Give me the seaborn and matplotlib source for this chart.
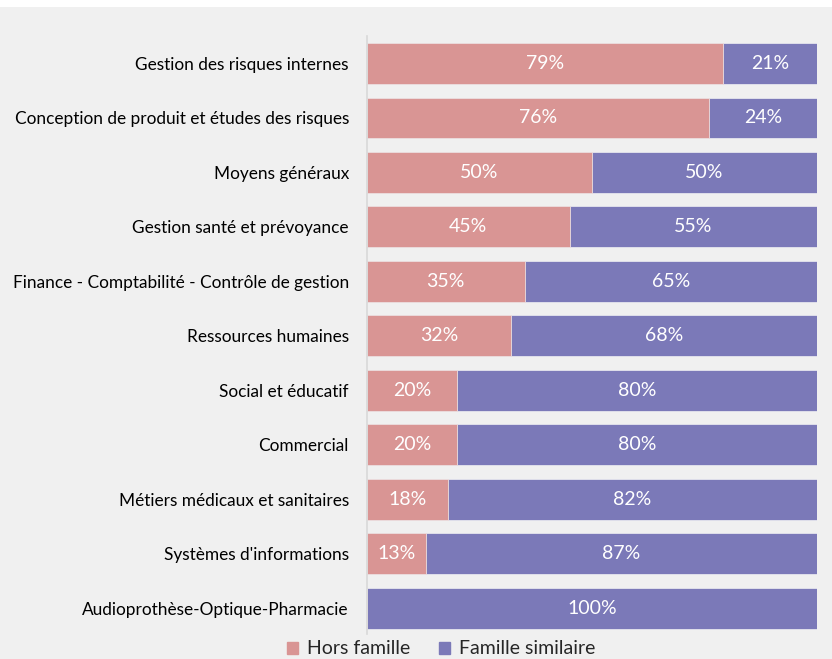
import matplotlib
matplotlib.use('Agg')
import matplotlib.pyplot as plt
import matplotlib.patches as mpatches
import seaborn as sns
import pandas as pd

# data
categories = ['Gestion des risques internes',
              'Conception de produit et études des risques',
              'Moyens généraux',
              'Gestion santé et prévoyance',
              'Finance - Comptabilité - Contrôle de gestion',
              'Ressources humaines',
              'Social et éducatif',
              'Commercial',
              'Métiers médicaux et sanitaires',
              "Systèmes d'informations",
              'Audioprothèse-Optique-Pharmacie']
hors_famille = [79, 76, 50, 45, 35, 32, 20, 20, 18, 13, 0]
famille_similaire = [21, 24, 50, 55, 65, 68, 80, 80, 82, 87, 100]
series_names = ['Hors famille', 'Famille similaire']

pink = '#d99594'
purple = '#7b79b8'
bg = '#f0f0f0'

sns.set_theme(style='white')
plt.rcParams['font.family'] = ['Lato', 'DejaVu Sans']

df = pd.DataFrame({'cat': categories, 'hors': hors_famille, 'sim': famille_similaire})
df['total'] = df['hors'] + df['sim']

fig = plt.figure(figsize=(8.32, 6.59), dpi=100, facecolor=bg)
fig.patches.append(mpatches.Rectangle((0, 1 - 7 / 659), 1, 7 / 659, transform=fig.transFigure,
                                      facecolor='white', edgecolor='none', zorder=0))
ax = fig.add_axes([367 / 832, 24.6 / 659, 450 / 832, 598.7 / 659])
ax.set_facecolor(bg)

sns.barplot(data=df, y='cat', x='total', color=purple, width=0.75, ax=ax,
            saturation=1, edgecolor='#e6e6ee', linewidth=0.6)
sns.barplot(data=df, y='cat', x='hors', color=pink, width=0.75, ax=ax,
            saturation=1, edgecolor='#eee0e0', linewidth=0.6)

# segment labels
for i, (h, s) in enumerate(zip(hors_famille, famille_similaire)):
    if h > 0:
        ax.text(h / 2, i, f'{h}%', ha='center', va='center', color='white', fontsize=14)
    if s > 0:
        ax.text(h + s / 2, i, f'{s}%', ha='center', va='center', color='white', fontsize=14)

ax.set_xlim(0, 100)
ax.set_ylim(10.48, -0.51)
ax.set_xlabel('')
ax.set_ylabel('')
ax.set_xticks([])
ax.tick_params(axis='y', length=0, pad=13, labelsize=12.4, labelcolor='black')
for sp in ['top', 'right', 'bottom']:
    ax.spines[sp].set_visible(False)
ax.spines['left'].set_color('#d9d9d9')
ax.spines['left'].set_linewidth(1.2)

handles = [mpatches.Patch(color=pink, label=series_names[0]),
           mpatches.Patch(color=purple, label=series_names[1])]
fig.legend(handles=handles, loc='upper center', bbox_to_anchor=(0.53, 18.5 / 659),
           ncol=2, frameon=False, fontsize=14, handlelength=0.57, handleheight=0.57,
           handletextpad=0.45, columnspacing=1.5, borderaxespad=0, borderpad=0)

fig.savefig('out.png', dpi=100, facecolor=bg)
